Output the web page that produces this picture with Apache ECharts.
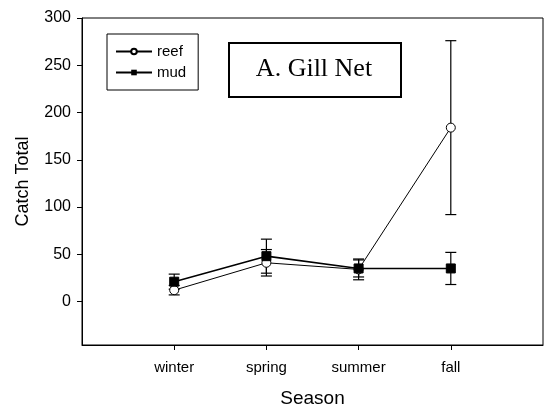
<!DOCTYPE html>
<html><head><meta charset="utf-8">
<script src="https://cdn.jsdelivr.net/npm/echarts@6/dist/echarts.min.js"></script>
<style>html,body{margin:0;padding:0;background:#fff}#c{width:545px;height:409px}</style>
</head><body><div id="c"></div>
<script>
const seasons = ['winter', 'spring', 'summer', 'fall'];
const reefMean = [12, 41, 34, 184];
const reefErr = [5, 14, 11, 92];
const mudMean = [21, 48, 35, 35];
const mudErr = [8, 18, 9, 17];
const yTicks = [0, 50, 100, 150, 200, 250, 300];

const pos = seasons.map((s, i) => i + 1);
const pts = (m) => m.map((v, i) => [pos[i], v]);
const errData = (m, e) => m.map((v, i) => [pos[i], v - e[i], v + e[i]]);

function errRender(params, api) {
  const x = api.value(0);
  const lo = api.coord([x, api.value(1)]);
  const hi = api.coord([x, api.value(2)]);
  const w = 5.5;
  const st = { stroke: '#000', lineWidth: 1.2 };
  return { type: 'group', children: [
    { type: 'line', shape: { x1: hi[0], y1: hi[1], x2: lo[0], y2: lo[1] }, style: st },
    { type: 'line', shape: { x1: hi[0] - w, y1: hi[1], x2: hi[0] + w, y2: hi[1] }, style: st },
    { type: 'line', shape: { x1: lo[0] - w, y1: lo[1], x2: lo[0] + w, y2: lo[1] }, style: st }
  ]};
}

const chart = echarts.init(document.getElementById('c'), null, { renderer: 'canvas' });
chart.setOption({
  animation: false,
  textStyle: { fontFamily: 'Liberation Sans, Arial, sans-serif' },
  grid: { left: 82, right: 2, top: 18, bottom: 64, show: true, borderColor: '#000', borderWidth: 1,
    containLabel: false, outerBoundsMode: 'none' },
  xAxis: {
    type: 'value', min: 0, max: 5, interval: 1,
    name: 'Season', nameLocation: 'middle', nameGap: 44,
    nameTextStyle: { fontSize: 19, color: '#000' },
    axisLine: { onZero: false, lineStyle: { color: '#000', width: 1 } },
    axisTick: { show: true, length: 5, lineStyle: { color: '#000' }, customValues: pos },
    axisLabel: { color: '#000', fontSize: 15, margin: 15, customValues: pos,
      formatter: v => seasons[v - 1] || '' },
    splitLine: { show: false }
  },
  yAxis: {
    type: 'value', min: -46, max: 300,
    name: 'Catch Total', nameLocation: 'middle', nameGap: 50,
    nameTextStyle: { fontSize: 18, color: '#000' },
    axisLine: { show: true, lineStyle: { color: '#000', width: 1 } },
    axisTick: { show: true, length: 5, lineStyle: { color: '#000' }, customValues: yTicks },
    axisLabel: { color: '#000', fontSize: 16, margin: 11, customValues: yTicks },
    splitLine: { show: false }
  },
  legend: {
    orient: 'vertical', left: 107, top: 34,
    data: ['reef', 'mud'],
    borderColor: '#000', borderWidth: 1,
    padding: [10, 12, 10, 8],
    itemWidth: 36, itemHeight: 7, itemGap: 6,
    textStyle: { fontSize: 15, color: '#000' }
  },
  graphic: [
    { type: 'rect', left: 228, top: 42, shape: { width: 172, height: 54 },
      style: { fill: '#fff', stroke: '#000', lineWidth: 2 } },
    { type: 'text', x: 314, y: 69,
      style: { text: 'A. Gill Net', font: '26px "Liberation Serif", "Times New Roman", serif',
        fill: '#000', align: 'center', verticalAlign: 'middle' } }
  ],
  series: [
    { type: 'custom', name: 'reefErr', data: errData(reefMean, reefErr), renderItem: errRender, z: 2, silent: true },
    { type: 'custom', name: 'mudErr', data: errData(mudMean, mudErr), renderItem: errRender, z: 2, silent: true },
    { type: 'line', name: 'reef', data: pts(reefMean), symbol: 'circle', symbolSize: 9,
      itemStyle: { color: '#fff', borderColor: '#000', borderWidth: 1 },
      lineStyle: { color: '#000', width: 1 }, z: 3 },
    { type: 'line', name: 'mud', data: pts(mudMean), symbol: 'rect', symbolSize: 9,
      itemStyle: { color: '#000', borderColor: '#000' },
      lineStyle: { color: '#000', width: 1.6 }, z: 4 }
  ]
});
</script></body></html>
